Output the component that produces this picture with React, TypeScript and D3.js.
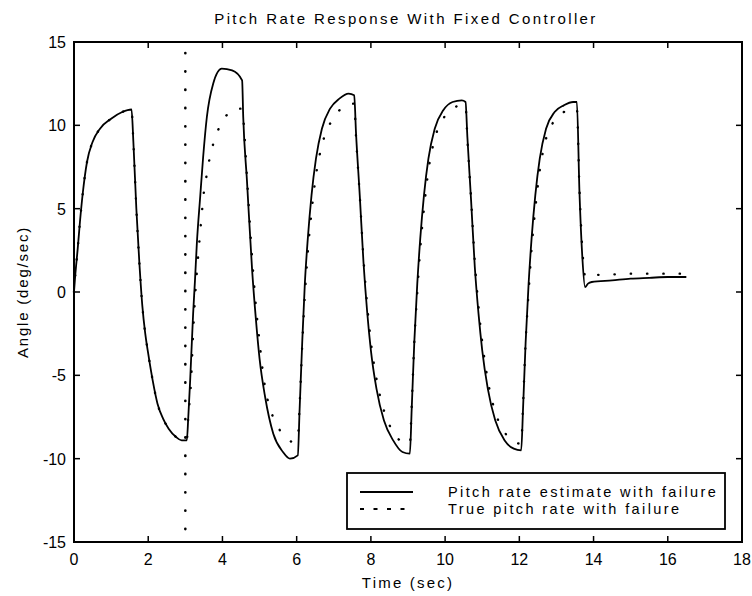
import React from "react";
import * as d3 from "d3";

const titleText = "Pitch Rate Response With Fixed Controller";
const xLabel = "Time (sec)";
const yLabel = "Angle (deg/sec)";
const xTicks = [0, 2, 4, 6, 8, 10, 12, 14, 16, 18];
const yTicks = [-15, -10, -5, 0, 5, 10, 15];
const legendLabels = ["Pitch rate estimate with failure", "True pitch rate with failure"];
const failureTime = 3;

const estTime = [
  0, 0.03, 0.1, 0.16, 0.24, 0.35, 0.5, 0.7, 1.0, 1.3, 1.55,
  1.6, 1.68, 1.76, 1.84, 1.92, 2.0, 2.12, 2.25, 2.4, 2.55, 2.75, 2.9, 3.04,
  3.08, 3.13, 3.21, 3.26, 3.31, 3.4, 3.48, 3.58, 3.75, 3.98, 4.26, 4.53,
  4.56, 4.66, 4.8, 4.9, 5.0, 5.15, 5.37, 5.63, 5.82, 6.03,
  6.08, 6.15, 6.22, 6.3, 6.4, 6.52, 6.68, 6.9, 7.15, 7.4, 7.55,
  7.6, 7.7, 7.8, 7.9, 8.0, 8.15, 8.35, 8.6, 8.85, 9.05,
  9.1, 9.17, 9.25, 9.33, 9.43, 9.55, 9.72, 9.95, 10.2, 10.45, 10.55,
  10.6, 10.7, 10.8, 10.9, 11.0, 11.15, 11.35, 11.6, 11.85, 12.05,
  12.1, 12.17, 12.25, 12.33, 12.43, 12.55, 12.72, 12.95, 13.2, 13.45, 13.55,
  13.62, 13.7, 13.77, 13.85, 13.95, 14.5, 15.0, 15.5, 16.0, 16.5,
];
const estValue = [
  0, 0.9, 2.6, 4.2, 6.0, 7.8, 9.0, 9.8, 10.4, 10.8, 10.95,
  9.0, 5.0, 1.8, -0.8, -2.5, -3.7, -5.3, -6.7, -7.6, -8.2, -8.7, -8.9, -8.9,
  -7.5, -5.3, -1.3, 0.7, 2.9, 5.7, 8.1, 10.5, 12.5, 13.4, 13.3, 12.7,
  10.5, 6.7, 1.3, -1.6, -4.0, -6.3, -8.5, -9.6, -10.0, -9.8,
  -7.0, -3.0, 0.5, 3.2, 5.8, 8.0, 9.8, 11.0, 11.6, 11.9, 11.8,
  9.5, 5.8, 1.8, -1.2, -3.5, -5.8, -7.7, -8.9, -9.6, -9.7,
  -7.0, -3.0, 0.5, 3.2, 5.8, 8.0, 9.8, 10.9, 11.4, 11.5, 11.4,
  9.3, 5.5, 1.5, -1.3, -3.5, -5.8, -7.7, -8.9, -9.4, -9.5,
  -7.0, -3.0, 0.5, 3.2, 5.8, 8.0, 9.8, 10.8, 11.2, 11.4, 11.4,
  6.0, 2.0, 0.3, 0.5, 0.6, 0.7, 0.8, 0.85, 0.9, 0.9,
];

const trueTime = [
  0, 0.03, 0.1, 0.16, 0.24, 0.35, 0.5, 0.7, 1.0, 1.3, 1.55,
  1.6, 1.68, 1.76, 1.84, 1.92, 2.0, 2.12, 2.25, 2.4, 2.55, 2.75, 2.9, 3.04,
  3.08, 3.15, 3.22, 3.28, 3.34, 3.42, 3.5, 3.59, 3.67, 3.8, 3.96, 4.15, 4.35, 4.5,
  4.56, 4.66, 4.8, 4.9, 5.0, 5.1, 5.2, 5.33, 5.52, 5.7, 5.9, 6.03,
  6.08, 6.15, 6.22, 6.3, 6.4, 6.52, 6.68, 6.9, 7.15, 7.4, 7.55,
  7.6, 7.7, 7.8, 7.9, 8.0, 8.15, 8.35, 8.6, 8.85, 9.05,
  9.1, 9.17, 9.25, 9.33, 9.43, 9.55, 9.72, 9.95, 10.2, 10.45, 10.55,
  10.6, 10.7, 10.8, 10.9, 11.0, 11.15, 11.35, 11.6, 11.85, 12.05,
  12.1, 12.17, 12.25, 12.33, 12.43, 12.55, 12.72, 12.95, 13.2, 13.45, 13.55,
  13.62, 13.7, 13.78, 13.9, 14.5, 15.0, 16.0, 16.5,
];
const trueValue = [
  0, 0.9, 2.6, 4.2, 6.0, 7.8, 9.0, 9.8, 10.4, 10.8, 10.95,
  9.0, 5.0, 1.8, -0.8, -2.5, -3.7, -5.3, -6.7, -7.6, -8.2, -8.7, -8.9, -8.9,
  -7.5, -5.5, -2.0, 0.3, 2.0, 4.1, 6.0, 7.2, 8.2, 9.2, 10.1, 10.7, 11.0, 11.0,
  10.4, 6.9, 2.0, -0.8, -3.0, -5.0, -6.3, -7.3, -8.2, -8.7, -9.0, -8.8,
  -6.8, -3.2, -0.2, 2.4, 4.8, 7.0, 8.8, 10.1, 10.9, 11.3, 11.3,
  9.3, 5.8, 2.0, -0.8, -3.0, -5.2, -7.1, -8.4, -9.0, -9.1,
  -6.8, -3.0, 0.0, 2.6, 5.0, 7.3, 9.2, 10.4, 11.0, 11.2, 11.2,
  9.2, 5.6, 1.8, -0.9, -3.0, -5.3, -7.2, -8.4, -9.0, -9.1,
  -6.8, -3.0, 0.0, 2.6, 5.0, 7.3, 9.2, 10.3, 10.8, 11.0, 11.0,
  6.2, 2.5, 0.9, 1.0, 1.05, 1.1, 1.1, 1.1,
];

const W = 752;
const H = 596;
const M = { left: 74, right: 742, top: 42, bottom: 542 };
const font = "'Liberation Sans', Arial, Helvetica, sans-serif";

export default function App() {
  const x = d3.scaleLinear().domain([0, 18]).range([M.left, M.right]);
  const y = d3.scaleLinear().domain([-15, 15]).range([M.bottom, M.top]);
  const line = d3
    .line<[number, number]>()
    .x((d) => x(d[0]))
    .y((d) => y(d[1]))
    .curve(d3.curveMonotoneX);
  const estPts: [number, number][] = estTime.map((t, i) => [t, estValue[i]]);
  const truePts: [number, number][] = trueTime.map((t, i) => [t, trueValue[i]]);
  const tick = 6;
  const lgX = 347, lgY = 473, lgW = 378, lgH = 56;

  return (
    <svg
      width={W}
      height={H}
      style={{ position: "absolute", left: 0, top: 0, background: "#fff" }}
      fontFamily={font}
    >
      <rect x={0} y={0} width={W} height={H} fill="#fff" />
      <text x={406} y={24} textAnchor="middle" fontSize={15} letterSpacing={2.4} fill="#000">
        {titleText}
      </text>
      {/* plot frame */}
      <rect
        x={M.left}
        y={M.top}
        width={M.right - M.left}
        height={M.bottom - M.top}
        fill="none"
        stroke="#000"
        strokeWidth={2}
      />
      {xTicks.map((t) => (
        <g key={"xt" + t}>
          <line x1={x(t)} x2={x(t)} y1={M.bottom} y2={M.bottom - tick} stroke="#000" strokeWidth={1.5} />
          <line x1={x(t)} x2={x(t)} y1={M.top} y2={M.top + tick} stroke="#000" strokeWidth={1.5} />
          <text x={x(t)} y={M.bottom + 23} textAnchor="middle" fontSize={16} fill="#000">
            {t}
          </text>
        </g>
      ))}
      {yTicks.map((v) => (
        <g key={"yt" + v}>
          <line x1={M.left} x2={M.left + tick} y1={y(v)} y2={y(v)} stroke="#000" strokeWidth={1.5} />
          <line x1={M.right} x2={M.right - tick} y1={y(v)} y2={y(v)} stroke="#000" strokeWidth={1.5} />
          <text x={M.left - 8} y={y(v) + 6} textAnchor="end" fontSize={16} fill="#000">
            {v}
          </text>
        </g>
      ))}
      <text x={408} y={588} textAnchor="middle" fontSize={15} letterSpacing={2.2} fill="#000">
        {xLabel}
      </text>
      <text
        transform={`translate(28, ${y(0)}) rotate(-90)`}
        textAnchor="middle"
        fontSize={15}
        letterSpacing={1.8}
        fill="#000"
      >
        {yLabel}
      </text>
      {/* failure marker */}
      <line
        x1={x(failureTime)}
        x2={x(failureTime)}
        y1={M.top + 11}
        y2={M.bottom}
        stroke="#000"
        strokeWidth={2.6}
        strokeLinecap="round"
        strokeDasharray="0.3,18"
      />
      <path
        d={line(truePts) ?? ""}
        fill="none"
        stroke="#000"
        strokeWidth={2.4}
        strokeLinecap="round"
        strokeDasharray="0.3,16"
      />
      <path d={line(estPts) ?? ""} fill="none" stroke="#000" strokeWidth={1.8} strokeLinejoin="round" />
      {/* legend */}
      <rect x={lgX} y={lgY} width={lgW} height={lgH} fill="#fff" stroke="#000" strokeWidth={1.8} />
      <line x1={360} x2={413} y1={492} y2={492} stroke="#000" strokeWidth={1.8} />
      <line x1={360} x2={413} y1={509} y2={509} stroke="#000" strokeWidth={1.8} strokeDasharray="4,9.5" />
      <text x={448} y={497} fontSize={14.5} letterSpacing={2.4} fill="#000">
        {legendLabels[0]}
      </text>
      <text x={448} y={514} fontSize={14.5} letterSpacing={2.4} fill="#000">
        {legendLabels[1]}
      </text>
    </svg>
  );
}
